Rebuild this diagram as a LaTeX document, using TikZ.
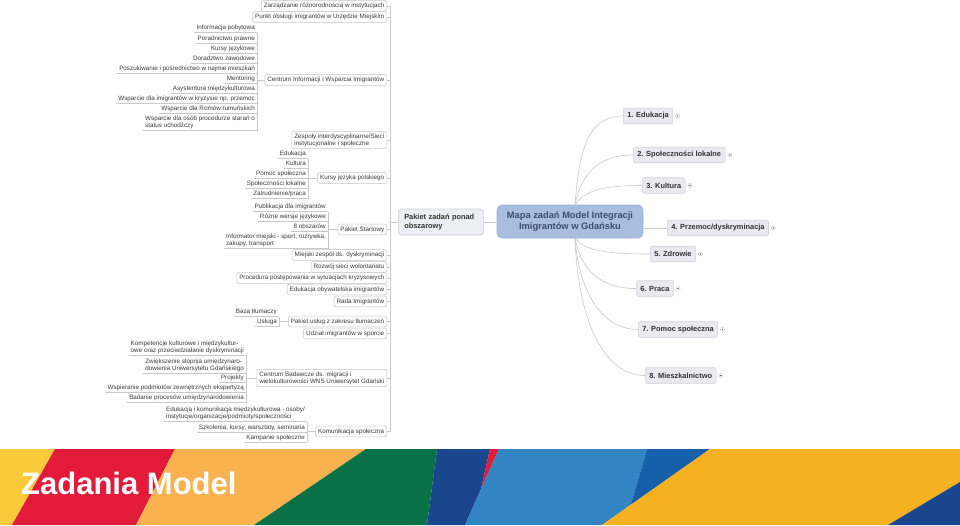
\documentclass[tikz,border=0pt]{standalone}
\usepackage{fontspec}
\setmainfont{Liberation Sans}
\usetikzlibrary{calc}
\definecolor{lg}{HTML}{C9C9C9}
\definecolor{bxb}{HTML}{C6C6C6}
\definecolor{txt}{HTML}{3A3A3A}
\definecolor{rnf}{HTML}{E9E9EF}
\definecolor{rnb}{HTML}{D2D2DA}
\definecolor{rtx}{HTML}{333333}
\definecolor{pzf}{HTML}{ECEEF5}
\definecolor{pzb}{HTML}{CBCFDB}
\definecolor{cnf}{HTML}{A8BDE0}
\definecolor{cnb}{HTML}{9AAFD5}
\definecolor{cnt}{HTML}{3C4F70}
\definecolor{dotb}{HTML}{BBBBBB}
\definecolor{dotk}{HTML}{444444}
\definecolor{yl}{HTML}{FBCA3B}
\definecolor{rd}{HTML}{E21B3A}
\definecolor{orng}{HTML}{F9B24F}
\definecolor{grn}{HTML}{0A7146}
\definecolor{dbl}{HTML}{1A468E}
\definecolor{lbl}{HTML}{3284C2}
\definecolor{mbl}{HTML}{1660AA}
\definecolor{yr}{HTML}{F6B120}
\newcommand{\mmsm}{\fontsize{6.3}{7.2}\selectfont}
\newcommand{\mmbd}{\fontsize{7.4}{9}\selectfont\bfseries}
\newcommand{\mmct}{\fontsize{9.3}{11}\selectfont\bfseries}
\tikzset{
  conn/.style={draw=lg, line width=0.6pt},
  tbox/.style={draw=bxb, fill=white, rounded corners=1.5pt, font=\mmsm, text=txt,
    inner xsep=2.5pt, inner ysep=2.2pt, anchor=east, line width=0.5pt,
    text height=4.7pt, text depth=1.5pt},
  tboxm/.style={draw=bxb, fill=white, rounded corners=1.5pt, font=\mmsm, text=txt,
    inner xsep=2.5pt, inner ysep=2.2pt, anchor=east, line width=0.5pt, align=left},
  leaf/.style={font=\mmsm, text=txt, inner xsep=2pt, inner ysep=1.4pt, anchor=east,
    text height=4.6pt, text depth=1.4pt},
  leafm/.style={font=\mmsm, text=txt, inner xsep=2pt, inner ysep=1.4pt, anchor=east, align=left},
  rnode/.style={draw=rnb, fill=rnf, rounded corners=2pt, font=\mmbd, text=rtx,
    inner xsep=4pt, minimum height=15.5pt, anchor=west, line width=0.6pt},
  pzbox/.style={draw=pzb, fill=pzf, rounded corners=3pt, font=\mmbd, text=rtx,
    text width=73pt, align=left, inner xsep=6pt, minimum height=26pt, anchor=west, line width=0.6pt},
  cbox/.style={draw=cnb, fill=cnf, rounded corners=5pt, font=\mmct, text=cnt,
    align=center, minimum width=146pt, minimum height=33pt, line width=0.6pt},
}
\begin{document}
\begin{tikzpicture}[x=1pt,y=-1pt]
\useasboundingbox (0,0) rectangle (960,525);
\fill[white] (0,0) rectangle (960,525);

% ---------- banner ----------
\fill[yl] (0,449) -- (55,449) -- (12,525) -- (0,525) -- cycle;
\fill[rd] (55,449) -- (175,449) -- (136,525) -- (12,525) -- cycle;
\fill[orng] (175,449) -- (366,449) -- (254,525) -- (136,525) -- cycle;
\fill[grn] (366,449) -- (437,449) -- (427,525) -- (254,525) -- cycle;
\fill[dbl] (437,449) -- (490,449) -- (481,489) -- (465,525) -- (427,525) -- cycle;
\fill[rd] (490,449) -- (499,449) -- (481,489) -- cycle;
\fill[lbl] (499,449) -- (647,449) -- (630.6,505) -- (602,525) -- (465,525) -- (481,489) -- cycle;
\fill[mbl] (647,449) -- (710,449) -- (630.6,505) -- cycle;
\fill[yr] (710,449) -- (960,449) -- (960,482) -- (888,525) -- (602,525) -- cycle;
\fill[dbl] (960,482) -- (960,525) -- (888,525) -- cycle;
\node[anchor=base west, font=\fontsize{31}{31}\selectfont\bfseries, text=white, inner sep=0pt] (title) at (21,494) {Zadania Model};

% ---------- first-level boxes of the left tree ----------
\node[tbox] (b1) at (387,6) {Zarządzanie różnorodnością w instytucjach};
\node[tbox] (b2) at (387,17) {Punkt obsługi imigrantów w Urzędzie Miejskim};
\node[tbox] (b3) at (387,80) {Centrum Informacji i Wsparcia Imigrantów};
\node[tboxm] (b4) at (387,140) {Zespoły interdyscyplinarne/Sieci\\instytucjonalne i społeczne};
\node[tbox] (b5) at (387,178) {Kursy języka polskiego};
\node[tbox] (b6) at (387,229.5) {Pakiet Startowy};
\node[tbox] (b7) at (387,255) {Miejski zespół ds. dyskryminacji};
\node[tbox] (b8) at (387,267) {Rozwój sieci wolontariatu};
\node[tbox] (b9) at (387,278) {Procedura postępowania w sytuacjach kryzysowych};
\node[tbox] (b10) at (387,289.5) {Edukacja obywatelska imigrantów};
\node[tbox] (b11) at (387,301.5) {Rada Imigrantów};
\node[tbox] (b12) at (387,321.5) {Pakiet usług z zakresu tłumaczeń};
\node[tbox] (b13) at (387,333.5) {Udział imigrantów w sporcie};
\node[tboxm] (b14) at (387,378) {Centrum Badawcze ds. migracji i\\wielokulturowości WNS Uniwersytet Gdański};
\node[tbox] (b15) at (387,431.5) {Komunikacja społeczna};

\coordinate (s1) at ($(b1.east)+(3,0)$);
\coordinate (s2) at ($(b15.east)+(3,0)$);
\draw[conn] (s1) -- (s2);
\foreach \i in {1,...,15} { \draw[conn] (b\i.east) -- ++(3,0); }

% ---------- leaves: Centrum Informacji ----------
\node[leaf] (a1) at (257,28) {Informacja pobytowa};
\node[leaf] (a2) at (257,38.5) {Poradnictwo prawne};
\node[leaf] (a3) at (257,49) {Kursy językowe};
\node[leaf] (a4) at (257,59) {Doradztwo zawodowe};
\node[leaf] (a5) at (257,69) {Poszukiwanie i pośrednictwo w najmie mieszkań};
\node[leaf] (a6) at (257,79) {Mentoring};
\node[leaf] (a7) at (257,89) {Asystentura międzykulturowa};
\node[leaf] (a8) at (257,99) {Wsparcie dla imigrantów w kryzysie np. przemoc};
\node[leaf] (a9) at (257,109) {Wsparcie dla Romów rumuńskich};
\node[leafm] (a10) at (257,122.5) {Wsparcie dla osób procedurze starań o\\status uchodźczy};
\foreach \i in {1,...,10} { \draw[conn] (a\i.south west) -- (a\i.south east); }
\draw[conn] (a1.south east) -- (a10.south east);
\draw[conn] (a1.south east |- b3.west) -- (b3.west);

% ---------- leaves: Kursy języka polskiego ----------
\node[leaf] (k1) at (308,154) {Edukacja};
\node[leaf] (k2) at (308,164) {Kultura};
\node[leaf] (k3) at (308,174) {Pomoc społeczna};
\node[leaf] (k4) at (308,184) {Społeczności lokalne};
\node[leaf] (k5) at (308,194) {Zatrudnienie/praca};
\foreach \i in {1,...,5} { \draw[conn] (k\i.south west) -- (k\i.south east); }
\draw[conn] (k1.south east) -- (k5.south east);
\draw[conn] (k1.south east |- b5.west) -- (b5.west);

% ---------- leaves: Pakiet Startowy ----------
\node[leaf] (p1) at (328,207) {Publikacja dla imigrantów};
\node[leaf] (p2) at (328,217) {Różne wersje językowe};
\node[leaf] (p3) at (328,227) {8 obszarów};
\node[leafm] (p4) at (328,240.5) {Informator miejski - sport, rozrywka,\\zakupy, transport};
\foreach \i in {1,...,4} { \draw[conn] (p\i.south west) -- (p\i.south east); }
\draw[conn] (p1.south east) -- (p4.south east);
\draw[conn] (p1.south east |- b6.west) -- (b6.west);

% ---------- leaves: Pakiet usług ----------
\node[leaf] (t1) at (279,312) {Baza tłumaczy};
\node[leaf] (t2) at (279,322) {Usługa};
\foreach \i in {1,2} { \draw[conn] (t\i.south west) -- (t\i.south east); }
\draw[conn] (t1.south east) -- (t2.south east);
\draw[conn] (t1.south east |- b12.west) -- (b12.west);

% ---------- leaves: Centrum Badawcze ----------
\node[leafm] (e1) at (246,347) {Kompetencje kulturowe i międzykultur-\\owe oraz przeciwdziałanie dyskryminacji};
\node[leafm] (e2) at (246,365) {Zwiększenie stopnia umiędzynaro-\\dowienia Uniwersytetu Gdańskiego};
\node[leaf] (e3) at (246,378) {Projekty};
\node[leaf] (e4) at (246,388) {Wspieranie podmiotów zewnętrznych ekspertyzą};
\node[leaf] (e5) at (246,398) {Badanie procesów umiędzynarodowienia};
\foreach \i in {1,...,5} { \draw[conn] (e\i.south west) -- (e\i.south east); }
\draw[conn] (e1.south east) -- (e5.south east);
\draw[conn] (e1.south east |- b14.west) -- (b14.west);

% ---------- leaves: Komunikacja społeczna ----------
\node[leafm] (c1) at (307,413.5) {Edukacja i komunikacja międzykulturowa - osoby/\\instytucje/organizacje/podmioty/społeczności};
\node[leaf] (c2) at (307,428) {Szkolenia, kursy, warsztaty, seminaria};
\node[leaf] (c3) at (307,437.5) {Kampanie społeczne};
\foreach \i in {1,...,3} { \draw[conn] (c\i.south west) -- (c\i.south east); }
\draw[conn] (c1.south east) -- (c3.south east);
\draw[conn] (c1.south east |- b15.west) -- (b15.west);

% ---------- centre ----------
\node[pzbox] (pz) at (398,222) {Pakiet zadań ponad\\obszarowy};
\draw[conn] (pz.west -| s1) -- (pz.west);
\node[cbox] (m) at (570,221.5) {Mapa zadań Model Integracji\\Imigrantów w Gdańsku};
\draw[conn] (pz.east) -- (pz.east -| m.west);

% ---------- right branches ----------
\node[rnode] (r1) at (623,116) {1. Edukacja};
\node[rnode] (r2) at (633,155) {2. Społeczności lokalne};
\node[rnode] (r3) at (642,185.5) {3. Kultura};
\node[rnode] (r4) at (667,228) {4. Przemoc/dyskryminacja};
\node[rnode] (r5) at (650,254) {5. Zdrowie};
\node[rnode] (r6) at (636,288.5) {6. Praca};
\node[rnode] (r7) at (638,329.5) {7. Pomoc społeczna};
\node[rnode] (r8) at (645,375.5) {8. Mieszkalnictwo};

\coordinate (mt) at ([xshift=5pt]m.north);
\coordinate (mb) at ([xshift=5pt]m.south);
\draw[conn] (mt) .. controls ($(mt)+(4,-55)$) and ($(r1.west)+(-35,0)$) .. (r1.west);
\draw[conn] (mt) .. controls ($(mt)+(6,-30)$) and ($(r2.west)+(-35,0)$) .. (r2.west);
\draw[conn] (mt) .. controls ($(mt)+(10,-14)$) and ($(r3.west)+(-40,0)$) .. (r3.west);
\draw[conn] (m.east |- r4.west) -- (r4.west);
\draw[conn] (mb) .. controls ($(mb)+(10,12)$) and ($(r5.west)+(-45,0)$) .. (r5.west);
\draw[conn] (mb) .. controls ($(mb)+(6,32)$) and ($(r6.west)+(-35,0)$) .. (r6.west);
\draw[conn] (mb) .. controls ($(mb)+(4,55)$) and ($(r7.west)+(-35,0)$) .. (r7.west);
\draw[conn] (mb) .. controls ($(mb)+(3,85)$) and ($(r8.west)+(-40,0)$) .. (r8.west);

\foreach \i in {1,...,8} {
  \draw[draw=dotb, fill=white, line width=0.4pt] ($(r\i.east)+(4.5,0)$) circle (2pt);
  \fill[dotk] ($(r\i.east)+(4.5,0)$) circle (0.7pt);
}
\end{tikzpicture}
\end{document}
